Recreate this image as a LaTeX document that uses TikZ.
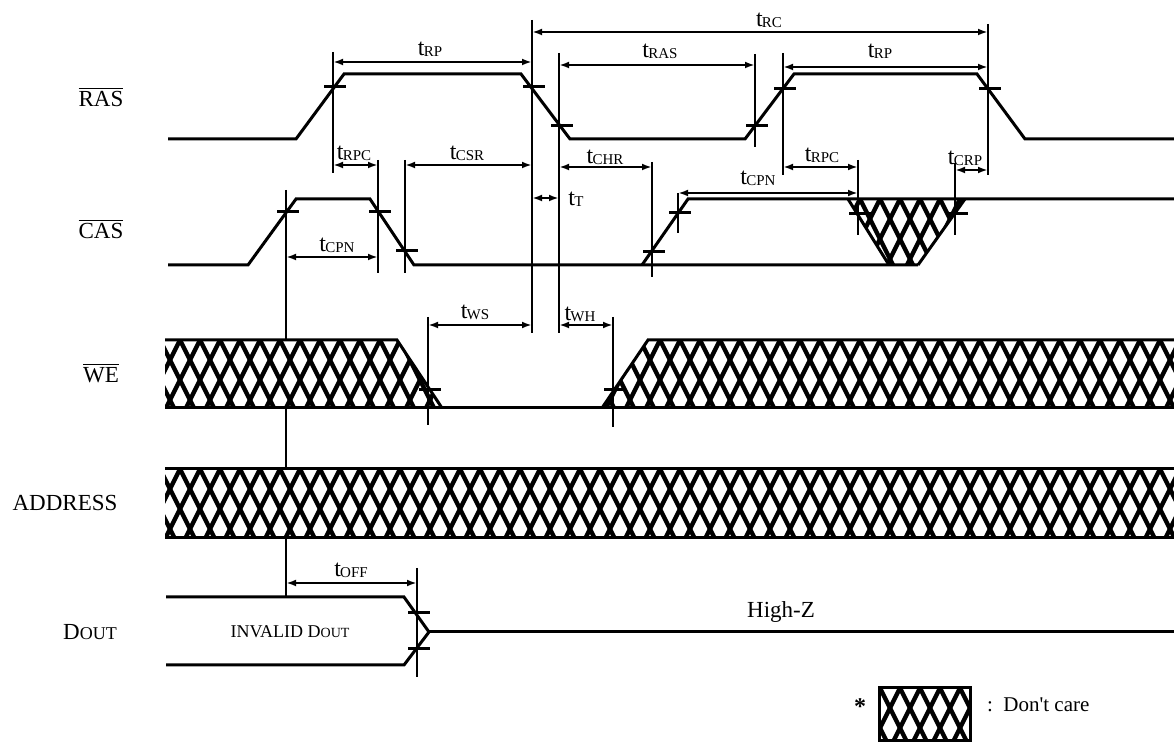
\documentclass[tikz,border=0pt]{standalone}
\usepackage{fontspec}
\setmainfont{Liberation Serif}
\usetikzlibrary{arrows.meta}

\newcommand{\tlab}[1]{t\kern-0.4pt\raisebox{-0.5pt}{\fontsize{7.5}{8}\selectfont #1}}
\newcommand{\xhatch}[3]{%
  \fill[white] #1;
  \begin{scope}
    \clip #1;
    \foreach \i in {-3,...,62}
      \draw[hatchline] (\i*20,#2) -- ++(#3/2,#3) (\i*20,#2) -- ++(-#3/2,#3);
  \end{scope}}

\begin{document}
\begin{tikzpicture}[x=0.5pt,y=-0.5pt,
    sig/.style={line width=1.5pt},
    refline/.style={line width=1.4pt},
    dimline/.style={line width=1.3pt,<->,>={Latex[length=5pt,width=3.4pt]}},
    hatchline/.style={line width=2.2pt},
    tname/.style={font=\fontsize{12}{12}\selectfont},
    sname/.style={font=\fontsize{11.5}{13}\selectfont}]
        \useasboundingbox (0,0) rectangle (1174,742);

        % signal names
        \node[sname] (lras) at (101,97) {$\overline{\mbox{RAS}}$};
        \node[sname] (lcas) at (101,229) {$\overline{\mbox{CAS}}$};
        \node[sname] (lwe) at (101,373) {$\overline{\mbox{WE}}$};
        \node[sname] (laddr) at (65,503) {ADDRESS};
        \node[sname] (ldout) at (90,632) {D{\fontsize{9}{10}\selectfont OUT}};

        \draw[refline](286,190)--(286,597);

        % don't care areas
        \xhatch{(165,340) -- (397,340) -- (442,408) -- (165,408) -- cycle}{340}{68}
        \xhatch{(602,408) -- (648,340) -- (1174,340) -- (1174,408) -- cycle}{340}{68}
        \xhatch{(165,469) rectangle (1174,538)}{469}{69}
        \xhatch{(848,199) -- (965,199) -- (918,265) -- (889,265) -- cycle}{199}{66}

        % RAS
        \draw[sig](168,139)--(296,139)--(344,74)--(521,74)--(570,139)--(745,139)--(794,74)--(977,74)--(1025,139)--(1174,139);
        % CAS
        \draw[sig](168,265)--(248,265)--(296,199)--(370,199)--(414,265)--(918,265);
        \draw[sig](642,265)--(688,199)--(1174,199);
        \draw[sig](848,199)--(889,265);
        \draw[sig](965,199)--(918,265);
        % WE
        \draw[sig](165,340)--(397,340)--(442,408);
        \draw[sig](165,408)--(1174,408);
        \draw[sig](602,408)--(648,340)--(1174,340);
        % ADDRESS
        \draw[sig](165,469)--(1174,469);
        \draw[sig](165,538)--(1174,538);
        % DOUT
        \draw[sig](166,597)--(404,597)--(429,632)--(404,665)--(166,665);
        \draw[sig](429,632)--(1174,632);
        \node[font=\fontsize{9}{10}\selectfont] (linv) at (290,632) {INVALID D{\fontsize{7}{8}\selectfont OUT}};
        \node[sname] (lhz) at (781,612) {High-Z};

        % reference lines
        \foreach \x/\a/\b in {333/52/173, 532/20/333, 559/53/333, 378/160/273, 405/160/273,
            755/54/147, 783/53/175, 988/24/175, 652/162/277, 678/193/233, 858/160/235,
            955/163/235, 428/317/425, 613/317/427, 417/568/677}
            \draw[refline](\x,\a)--(\x,\b);

        % ticks
        \foreach \x/\y in {333/87, 532/87, 560/126, 755/126, 783/89, 988/89,
            286/212, 378/212, 405/251, 652/252, 678/213, 858/214, 955/214,
            428/390, 613/390, 417/613, 417/649}
            \draw[sig](\x-9,\y)--(\x+13,\y);

        % timings
        \draw[dimline](532,32)--(988,32);
        \node[tname] (trc) at (769,20) {\tlab{RC}};
        \draw[dimline](333,62)--(532,62);
        \node[tname] (trp) at (430,49) {\tlab{RP}};
        \draw[dimline](559,65)--(755,65);
        \node[tname] (tras) at (660,51) {\tlab{RAS}};
        \draw[dimline](783,67)--(988,67);
        \node[tname] (trpb) at (880,51) {\tlab{RP}};
        \draw[dimline](333,165)--(378,165);
        \node[tname] (trpc) at (354,153) {\tlab{RPC}};
        \draw[dimline](405,165)--(532,165);
        \node[tname] (tcsr) at (467,153) {\tlab{CSR}};
        \draw[dimline](559,167)--(652,167);
        \node[tname] (tchr) at (605,157) {\tlab{CHR}};
        \draw[dimline](783,167)--(858,167);
        \node[tname] (trpcb) at (822,155) {\tlab{RPC}};
        \draw[dimline](955,170)--(988,170);
        \node[tname] (tcrp) at (965,158) {\tlab{CRP}};
        \draw[dimline](532,198)--(559,198);
        \node[tname] (tt) at (576,199) {\tlab{T}};
        \draw[dimline](286,257)--(378,257);
        \node[tname] (tcpn) at (337,245) {\tlab{CPN}};
        \draw[dimline](678,193)--(858,193);
        \node[tname] (tcpnb) at (758,178) {\tlab{CPN}};
        \draw[dimline](428,325)--(532,325);
        \node[tname] (tws) at (475,312) {\tlab{WS}};
        \draw[dimline](559,325)--(613,325);
        \node[tname] (twh) at (580,314) {\tlab{WH}};
        \draw[dimline](286,583)--(417,583);
        \node[tname] (toff) at (351,570) {\tlab{OFF}};

        % legend
        \node[font=\bfseries\fontsize{12}{12}\selectfont] (star) at (860,707) {*};
        \xhatch{(879,688) rectangle (970,741)}{688}{53}
        \draw[sig](879,688) rectangle (970,741);
        \node[font=\fontsize{10.5}{12}\selectfont, anchor=west] (ldc) at (980,705) {:\ \ Don\textquotesingle t care};
\end{tikzpicture}
\end{document}
